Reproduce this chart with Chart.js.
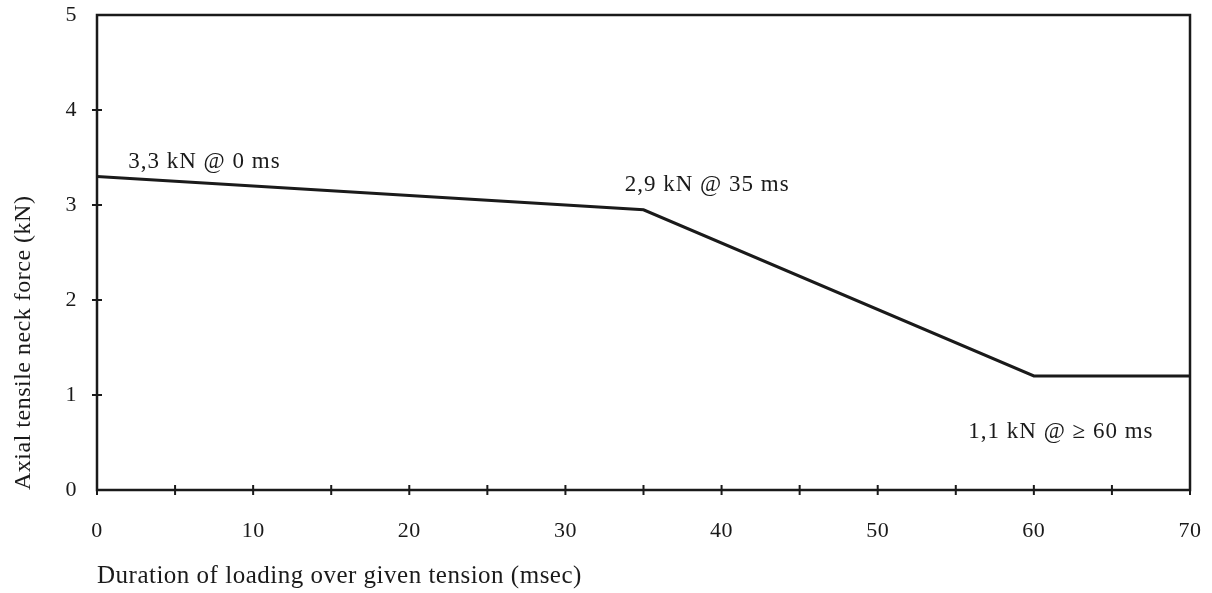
<!DOCTYPE html>
<html>
<head>
<meta charset="utf-8">
<script src="https://cdn.jsdelivr.net/npm/chart.js@4.4.1/dist/chart.umd.min.js"></script>
<style>
  html, body { margin: 0; padding: 0; background: #fff; }
  #wrap { width: 1212px; height: 593px; }
</style>
</head>
<body>
<div id="wrap"><canvas id="neckChart"></canvas></div>
<script>
// Neck tension limit vs duration
const durations = [0, 35, 60, 70];
const forces = [3.3, 2.95, 1.2, 1.2];
const noteTexts = ['3,3 kN @ 0 ms', '2,9 kN @ 35 ms', '1,1 kN @ \u2265 60 ms'];
const noteX = [2.0, 33.8, 55.8];
const noteY = [3.45, 3.21, 0.61];
const xTitle = 'Duration of loading over given tension (msec)';
const yTitle = 'Axial tensile neck force (kN)';

const serif = '"Liberation Serif", "DejaVu Serif", serif';
const ink = '#1a1a1a';

// a little extra letter spacing, like the old typeset figure
const spacingPlugin = {
    id: 'spacing',
    beforeDraw(chart) { chart.ctx.letterSpacing = '0.5px'; }
};

// box + ticks that cross the axes + text notes
const framePlugin = {
    id: 'frame',
    afterDraw(chart) {
        const ctx = chart.ctx;
        const a = chart.chartArea;
        const xs = chart.scales.x, ys = chart.scales.y;
        ctx.save();
        ctx.strokeStyle = ink;
        ctx.lineWidth = 2.5;
        ctx.strokeRect(a.left, a.top, a.right - a.left, a.bottom - a.top);
        ctx.lineWidth = 2;
        ctx.beginPath();
        xs.ticks.forEach(t => {
            const px = xs.getPixelForValue(t.value);
            ctx.moveTo(px, a.bottom - 5);
            ctx.lineTo(px, a.bottom + 5);
        });
        ys.ticks.forEach(t => {
            if (t.value === 0 || t.value === 5) return;
            const py = ys.getPixelForValue(t.value);
            ctx.moveTo(a.left - 5, py);
            ctx.lineTo(a.left + 5, py);
        });
        ctx.stroke();
        ctx.fillStyle = ink;
        ctx.font = '23px ' + serif;
        ctx.letterSpacing = '1px';
        ctx.textBaseline = 'middle';
        noteTexts.forEach((txt, i) => {
            ctx.fillText(txt, xs.getPixelForValue(noteX[i]), ys.getPixelForValue(noteY[i]));
        });
        ctx.restore();
    }
};

const ctxNeck = document.getElementById('neckChart').getContext('2d');
const neckChart = new Chart(ctxNeck, {
    type: 'line',
    data: {
        datasets: [{
            data: durations.map((d, i) => ({ x: d, y: forces[i] })),
            borderColor: ink,
            borderWidth: 3,
            pointRadius: 0,
            tension: 0,
            fill: false
        }]
    },
    options: {
        responsive: true,
        maintainAspectRatio: false,
        animation: false,
        layout: { padding: { top: 15, right: 22, left: 0, bottom: 0 } },
        plugins: {
            legend: { display: false },
            tooltip: { enabled: false }
        },
        scales: {
            x: {
                type: 'linear',
                min: 0,
                max: 70,
                border: { display: false },
                grid: { drawOnChartArea: false, drawTicks: false },
                ticks: {
                    stepSize: 5,
                    padding: 28,
                    color: ink,
                    font: { family: serif, size: 22 },
                    maxRotation: 0,
                    autoSkip: false,
                    callback: v => (v % 10 === 0 ? v : '')
                },
                title: {
                    display: true,
                    text: xTitle,
                    align: 'start',
                    color: ink,
                    font: { family: serif, size: 25 },
                    padding: { top: 0, bottom: 2 }
                },
                afterFit: s => {
                    s.height = 593 - 490;
                    s.paddingLeft = 0;
                    s.paddingRight = 0;
                }
            },
            y: {
                min: 0,
                max: 5,
                border: { display: false },
                grid: { drawOnChartArea: false, drawTicks: false },
                ticks: {
                    stepSize: 1,
                    padding: 20,
                    color: ink,
                    font: { family: serif, size: 22 }
                },
                title: {
                    display: true,
                    text: yTitle,
                    align: 'start',
                    color: ink,
                    font: { family: serif, size: 24 },
                    padding: { top: 9, bottom: 0 }
                },
                afterFit: s => {
                    s.width = 97;
                    s.paddingTop = 0;
                    s.paddingBottom = 0;
                }
            }
        }
    },
    plugins: [spacingPlugin, framePlugin]
});
</script>
</body>
</html>
